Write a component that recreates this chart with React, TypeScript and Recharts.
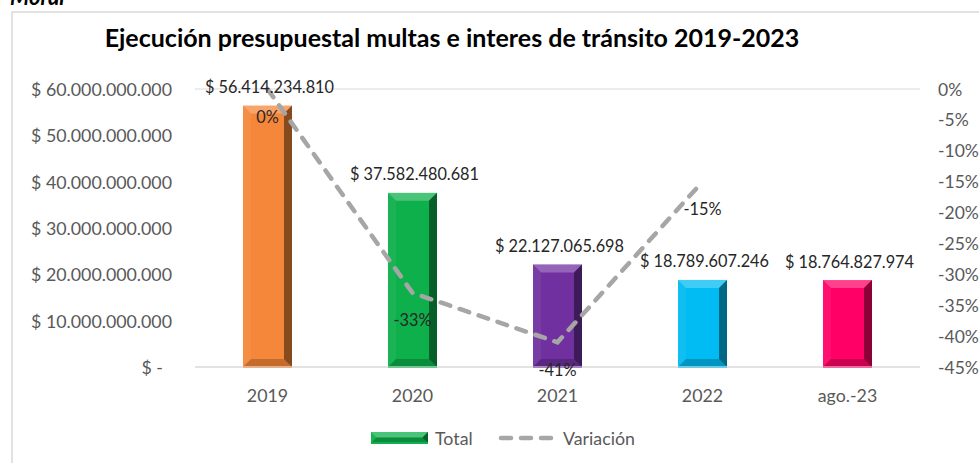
import React from 'react';
import { ComposedChart, Bar, Line, XAxis, YAxis, CartesianGrid, Cell, LabelList } from 'recharts';

const categories = ['2019', '2020', '2021', '2022', 'ago.-23'];
const totals = [56414234810, 37582480681, 22127065698, 18789607246, 18764827974];
const variation: (number | null)[] = [0, -0.33, -0.41, -0.15, null];
const leftTicks = [0, 10000000000, 20000000000, 30000000000, 40000000000, 50000000000, 60000000000];
const rightTicks = [0, -0.05, -0.1, -0.15, -0.2, -0.25, -0.3, -0.35, -0.4, -0.45];

const BAR_COLORS = ['#F5873A', '#0DB04B', '#7030A0', '#00BCF2', '#FF0066'];
const FONT = 'Lato, "Liberation Sans", sans-serif';
const AXIS_COLOR = '#595959';

const data = categories.map((c, i) => ({ cat: c, total: totals[i], variacion: variation[i] }));

const fmtMoney = (v: number) => {
  if (v === 0) return '$ -\u00a0\u00a0';
  return '$ ' + Math.round(v).toString().replace(/\B(?=(\d{3})+(?!\d))/g, '.');
};
const fmtPct = (v: number) => `${Math.round(v * 100)}%`;

const BevelBar = (props: any) => {
  const { x, y, width: w, height: h, fill } = props;
  if (!h || h <= 0) return null;
  const b = Math.min(8, h / 2);
  return (
    <g>
      <rect x={x} y={y} width={w} height={h} fill={fill} />
      <polygon points={`${x},${y} ${x + w},${y} ${x + w - b},${y + b} ${x + b},${y + b}`} fill="#ffffff" fillOpacity={0.25} />
      <polygon points={`${x},${y} ${x + b},${y + b} ${x + b},${y + h - b} ${x},${y + h}`} fill="#ffffff" fillOpacity={0.06} />
      <polygon points={`${x + w},${y} ${x + w},${y + h} ${x + w - b},${y + h - b} ${x + w - b},${y + b}`} fill="#000000" fillOpacity={0.45} />
      <polygon points={`${x},${y + h} ${x + w},${y + h} ${x + w - b},${y + h - b} ${x + b},${y + h - b}`} fill="#000000" fillOpacity={0.2} />
      <line x1={x} x2={x + w} y1={y + h} y2={y + h} stroke={fill} strokeWidth={2} />
    </g>
  );
};

const BarLabel = (props: any) => {
  const { x, y, width, value } = props;
  return (
    <text x={x + width / 2 + 2} y={y - 19} textAnchor="middle" dominantBaseline="central" fontFamily={FONT} fontSize={16.3} fill="#262626">
      {fmtMoney(value)}
    </text>
  );
};

const LineLabel = (props: any) => {
  const { x, y, value } = props;
  if (value === null || value === undefined) return null;
  return (
    <text x={x} y={y + 27} textAnchor="middle" dominantBaseline="central" fontFamily={FONT} fontSize={16.3} fill="#262626">
      {fmtPct(value)}
    </text>
  );
};

const LeftTick = (props: any) => {
  const { y, payload } = props;
  return (
    <text x={172} y={y} textAnchor="end" dominantBaseline="central" fontFamily={FONT} fontSize={17.8} fill={AXIS_COLOR}>
      {fmtMoney(payload.value)}
    </text>
  );
};

const RightTick = (props: any) => {
  const { y, payload } = props;
  return (
    <text x={938} y={y} textAnchor="start" dominantBaseline="central" fontFamily={FONT} fontSize={17.5} fill={AXIS_COLOR}>
      {fmtPct(payload.value)}
    </text>
  );
};

const XTick = (props: any) => {
  const { x, payload } = props;
  return (
    <text x={x} y={395} textAnchor="middle" dominantBaseline="central" fontFamily={FONT} fontSize={17.8} fill={AXIS_COLOR}>
      {payload.value}
    </text>
  );
};

export default function App() {
  return (
    <div style={{ position: 'absolute', left: 0, top: 0, width: 979, height: 463, background: '#fff', overflow: 'hidden' }}>
      <svg width={979} height={463} style={{ position: 'absolute', left: 0, top: 0 }}>
        <rect x={12} y={12} width={1000} height={500} fill="#fff" stroke="#D9D9D9" strokeWidth={1.5} />
        <text x={10} y={5} fontFamily={FONT} fontSize={22} fontWeight="bold" fontStyle="italic" fill="#000">Moral</text>
      </svg>
      <div style={{ position: 'absolute', left: 0, top: 0 }}>
        <ComposedChart width={979} height={463} data={data} margin={{ top: 89, right: 0, bottom: 0, left: 0 }}>
          <CartesianGrid vertical={false} stroke="#D9D9D9" strokeWidth={1.2} />
          <XAxis dataKey="cat" height={96} axisLine={{ stroke: '#D9D9D9' }} tickLine={false} tick={<XTick />} interval={0} />
          <YAxis yAxisId="left" width={195} domain={[0, 60000000000]} ticks={leftTicks} axisLine={false} tickLine={false} tick={<LeftTick />} />
          <YAxis yAxisId="right" orientation="right" width={59} domain={[-0.45, 0]} ticks={rightTicks} axisLine={false} tickLine={false} tick={<RightTick />} />
          <Bar yAxisId="left" dataKey="total" barSize={49} shape={<BevelBar />} isAnimationActive={false}>
            {data.map((d, i) => (
              <Cell key={d.cat} fill={BAR_COLORS[i]} />
            ))}
            <LabelList dataKey="total" content={<BarLabel />} />
          </Bar>
          <Line yAxisId="right" dataKey="variacion" stroke="#A6A6A6" strokeWidth={4.5} strokeDasharray="10 10" strokeLinecap="round" dot={false} activeDot={false} isAnimationActive={false} connectNulls={false}>
            <LabelList dataKey="variacion" content={<LineLabel />} />
          </Line>
        </ComposedChart>
      </div>
      <svg width={979} height={463} style={{ position: 'absolute', left: 0, top: 0, pointerEvents: 'none' }}>
        <text x={452} y={37} textAnchor="middle" dominantBaseline="central" fontFamily={FONT} fontSize={25} fontWeight="bold" fill="#000">
          Ejecución presupuestal multas e interes de tránsito 2019-2023
        </text>
        <g>
          <BevelBar x={371} y={432} width={57} height={11} fill={BAR_COLORS[1]} />
          <text x={435} y={438} dominantBaseline="central" fontFamily={FONT} fontSize={17.8} fill={AXIS_COLOR}>Total</text>
          <line x1={501} x2={554} y1={438} y2={438} stroke="#A6A6A6" strokeWidth={4.5} strokeDasharray="10 10" strokeLinecap="round" />
          <text x={563} y={438} dominantBaseline="central" fontFamily={FONT} fontSize={17.8} fill={AXIS_COLOR}>Variación</text>
        </g>
      </svg>
    </div>
  );
}
